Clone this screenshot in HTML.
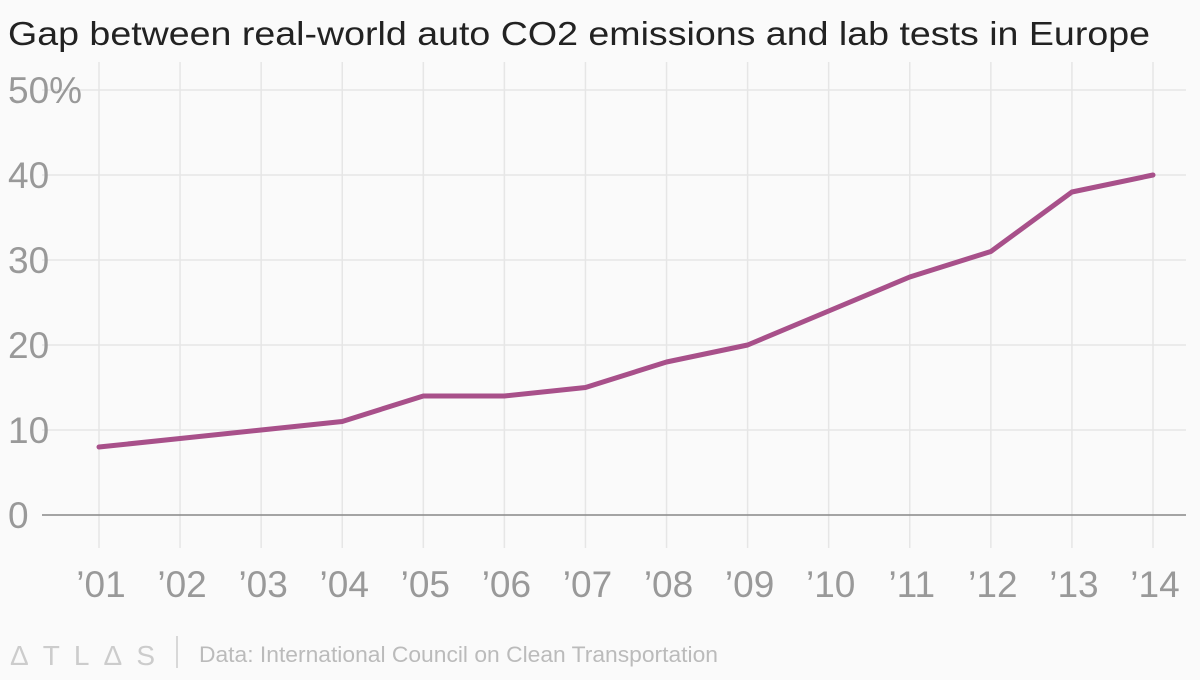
<!DOCTYPE html>
<html><head><meta charset="utf-8"><style>
body{margin:0;background:#fafafa;width:1200px;height:675px;overflow:hidden;font-family:"Liberation Sans",sans-serif;}
</style></head><body>
<svg width="1200" height="675">
<rect width="1200" height="675" fill="#fafafa"/>
<text x="8" y="45" font-size="33" fill="#222" textLength="1142" lengthAdjust="spacingAndGlyphs">Gap between real-world auto CO2 emissions and lab tests in Europe</text>
<g id="grid"></g><g id="yt"></g><g id="xt"></g>
<line x1="42" x2="1186" y1="515" y2="515" stroke="#888" stroke-width="1.5"/>
<path id="line" fill="none" stroke="#a8508a" stroke-width="5" stroke-linejoin="round" stroke-linecap="round"/>
<text x="10" y="665" font-size="28" fill="#ccc" textLength="145" lengthAdjust="spacing">ΔTLΔS</text>
<line x1="177" x2="177" y1="636" y2="668" stroke="#ccc" stroke-width="1.5"/>
<text x="199" y="662" font-size="22" fill="#bbb" textLength="519" lengthAdjust="spacingAndGlyphs">Data: International Council on Clean Transportation</text>
</svg>
<script>
const years=["’01","’02","’03","’04","’05","’06","’07","’08","’09","’10","’11","’12","’13","’14"];
const gapValues=[8,9,10,11,14,14,15,18,20,24,28,31,38,40];
const yTicks=[0,10,20,30,40,50];
const yTickLabels=["0","10","20","30","40","50%"];
const NS="http://www.w3.org/2000/svg";
const x=i=>99+i*(1153-99)/(years.length-1);
const y=v=>515-v*8.5;
function mk(t,a,p){const e=document.createElementNS(NS,t);for(const k in a)e.setAttribute(k,a[k]);p.appendChild(e);return e;}
const grid=document.getElementById('grid'),yt=document.getElementById('yt'),xt=document.getElementById('xt');
yTicks.forEach((v,i)=>{
 if(v>0){const l=mk('line',{x1:42,x2:1186,y1:y(v),y2:y(v),stroke:'#e6e6e6','stroke-width':1.5},grid);
 
 }
 const t=mk('text',{x:8,y:y(v)+13,'font-size':37,fill:'#999'},yt);t.textContent=yTickLabels[i];
 
 
});
years.forEach((s,i)=>{
 const l=mk('line',{x1:x(i),x2:x(i),y1:62,y2:548,stroke:'#e6e6e6','stroke-width':1.5},grid);
 
 
 const t=mk('text',{x:x(i)+2,y:597,'font-size':37,fill:'#999','text-anchor':'middle'},xt);t.textContent=s;
 
 
});
document.getElementById('line').setAttribute('d',gapValues.map((v,i)=>(i?'L':'M')+x(i)+','+y(v)).join(''));
</script>
</body></html>
